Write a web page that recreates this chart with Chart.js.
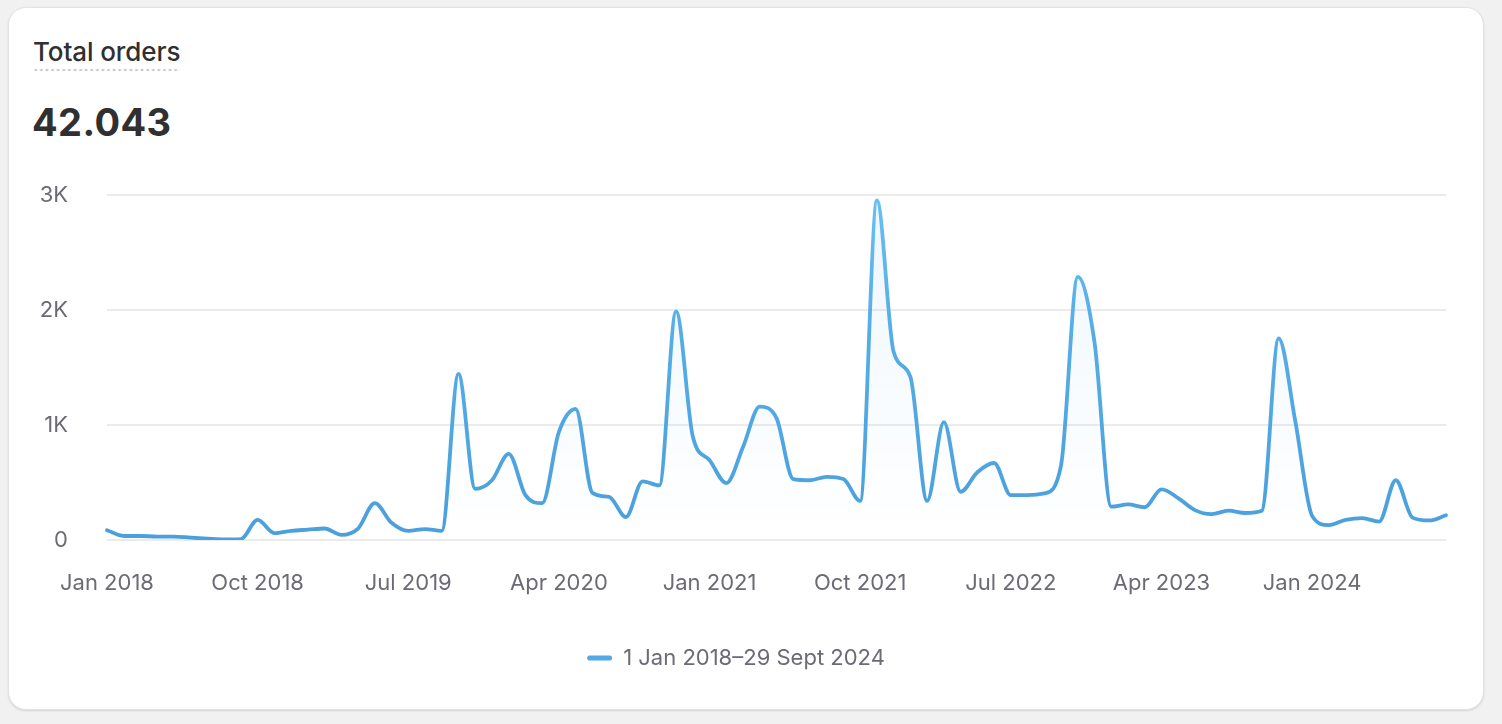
<!DOCTYPE html>
<html>
<head>
<meta charset="utf-8">
<script src="https://cdn.jsdelivr.net/npm/chart.js@4.4.1/dist/chart.umd.min.js"></script>
<style>
  html, body { margin: 0; padding: 0; background: #f1f1f1; }
  body { width: 1502px; height: 724px; position: relative; overflow: hidden; font-family: Inter, "Noto Sans", sans-serif; }
  #card {
    position: absolute; left: 8px; top: 7px; width: 1474px; height: 701px;
    background: #fff; border: 1px solid #e2e2e2; border-radius: 18px;
    box-shadow: 0 1px 2px rgba(0,0,0,0.12);
  }
  #title {
    position: absolute; left: 33px; top: 36px; font-size: 26px; font-weight: 550; color: #303030;
    padding-bottom: 5px; letter-spacing: -0.1px;
    background-image: radial-gradient(circle, #c9c9c9 1.3px, transparent 1.6px);
    background-size: 5.6px 4px; background-repeat: repeat-x; background-position: 0 100%;
  }
  #total { position: absolute; left: 32px; top: 99px; font-size: 38px; font-weight: 700; color: #303030; letter-spacing: 0.4px; }
  #wrap { position: absolute; left: 20px; top: 143px; width: 1456px; height: 549px; }
</style>
</head>
<body>
<div id="card"></div>
<div id="title">Total orders</div>
<div id="total">42.043</div>
<div id="wrap"><canvas id="myChart"></canvas></div>
<script>
// monthly buckets, Jan 2018 - Sep 2024
var categories = [
  "Jan 2018","Feb 2018","Mar 2018","Apr 2018","May 2018","Jun 2018","Jul 2018","Aug 2018","Sep 2018","Oct 2018","Nov 2018","Dec 2018",
  "Jan 2019","Feb 2019","Mar 2019","Apr 2019","May 2019","Jun 2019","Jul 2019","Aug 2019","Sep 2019","Oct 2019","Nov 2019","Dec 2019",
  "Jan 2020","Feb 2020","Mar 2020","Apr 2020","May 2020","Jun 2020","Jul 2020","Aug 2020","Sep 2020","Oct 2020","Nov 2020","Dec 2020",
  "Jan 2021","Feb 2021","Mar 2021","Apr 2021","May 2021","Jun 2021","Jul 2021","Aug 2021","Sep 2021","Oct 2021","Nov 2021","Dec 2021",
  "Jan 2022","Feb 2022","Mar 2022","Apr 2022","May 2022","Jun 2022","Jul 2022","Aug 2022","Sep 2022","Oct 2022","Nov 2022","Dec 2022",
  "Jan 2023","Feb 2023","Mar 2023","Apr 2023","May 2023","Jun 2023","Jul 2023","Aug 2023","Sep 2023","Oct 2023","Nov 2023","Dec 2023",
  "Jan 2024","Feb 2024","Mar 2024","Apr 2024","May 2024","Jun 2024","Jul 2024","Aug 2024","Sep 2024"
];
var orders = [
  85, 35, 35, 30, 30, 20, 12, 5, 8, 175, 60, 80,
  90, 100, 45, 100, 320, 150, 80, 95, 80, 1445, 445, 520,
  750, 390, 320, 940, 1140, 410, 375, 200, 510, 475, 1990, 900,
  695, 495, 810, 1160, 1060, 530, 520, 550, 530, 340, 2955, 1635,
  1420, 340, 1025, 420, 590, 670, 390, 390, 405, 650, 2290, 1720,
  290, 310, 285, 440, 365, 260, 225, 255, 235, 255, 1755, 1030,
  210, 130, 175, 190, 160, 520, 195, 170, 215
];
var yTicks = [0, 1000, 2000, 3000];
var yTickLabels = ["0", "1K", "2K", "3K"];
var seriesLabel = "1 Jan 2018\u201329 Sept 2024";
var tickEvery = 9;

var textColor = "#6b6b75";

function lineGradient(context) {
    var chart = context.chart;
    var area = chart.chartArea;
    if (!area) return "#4aa3df";
    var g = chart.ctx.createLinearGradient(0, area.bottom, 0, area.top);
    g.addColorStop(0, "#4a9fdc");
    g.addColorStop(0.6, "#55ade6");
    g.addColorStop(1, "#68c0f3");
    return g;
}

function fillGradient(context) {
    var chart = context.chart;
    var area = chart.chartArea;
    if (!area) return "rgba(80,170,230,0.05)";
    var g = chart.ctx.createLinearGradient(0, area.top, 0, area.bottom);
    g.addColorStop(0, "rgba(90,175,235,0.10)");
    g.addColorStop(1, "rgba(90,175,235,0.0)");
    return g;
}

new Chart("myChart", {
  type: "line",
  data: {
    labels: categories,
    datasets: [{
      label: seriesLabel,
      data: orders,
      borderColor: lineGradient,
      backgroundColor: fillGradient,
      fill: "origin",
      borderWidth: 3.8,
      pointRadius: 0,
      cubicInterpolationMode: "monotone",
      borderCapStyle: "round",
      borderJoinStyle: "round"
    }]
  },
  options: {
    responsive: true,
    maintainAspectRatio: false,
    animation: false,
    // note: y tick padding also pads the top (~52px), x tick padding pads the right (~30px)
    layout: { padding: { top: 0, right: 24, left: 0, bottom: 13 } },
    scales: {
      x: {
        grid: { display: false, drawTicks: false },
        border: { display: false },
        ticks: {
          autoSkip: false,
          maxRotation: 0,
          padding: 30,
          color: textColor,
          font: { family: "Inter", size: 22 },
          callback: function(value, index) {
            return index % tickEvery === 0 && index < categories.length - 1 ? this.getLabelForValue(value) : "";
          }
        },
        afterFit: function(scale) { scale.height = 97; }
      },
      y: {
        min: 0,
        max: 3000,
        afterBuildTicks: function(scale) { scale.ticks = yTicks.map(function(v) { return { value: v }; }); },
        grid: { color: "#ebebeb", lineWidth: 2, drawTicks: false },
        border: { display: false },
        ticks: {
          padding: 39,
          color: textColor,
          font: { family: "Inter", size: 22 },
          callback: function(value) { return yTickLabels[yTicks.indexOf(value)]; }
        },
        afterFit: function(scale) { scale.width = 87; }
      }
    },
    plugins: {
      tooltip: { enabled: false },
      legend: {
        position: "bottom",
        labels: {
          color: textColor,
          font: { family: "Inter", size: 22 },
          boxWidth: 25,
          boxHeight: 5,
          padding: 10,
          useBorderRadius: true,
          borderRadius: 2.5,
          generateLabels: function(chart) {
            var items = Chart.defaults.plugins.legend.labels.generateLabels(chart);
            items.forEach(function(item) {
              item.fillStyle = "#52a9e3";
              item.strokeStyle = "#52a9e3";
              item.lineWidth = 0;
              item.borderRadius = 2.5;
            });
            return items;
          }
        }
      }
    }
  }
});
</script>
</body>
</html>
